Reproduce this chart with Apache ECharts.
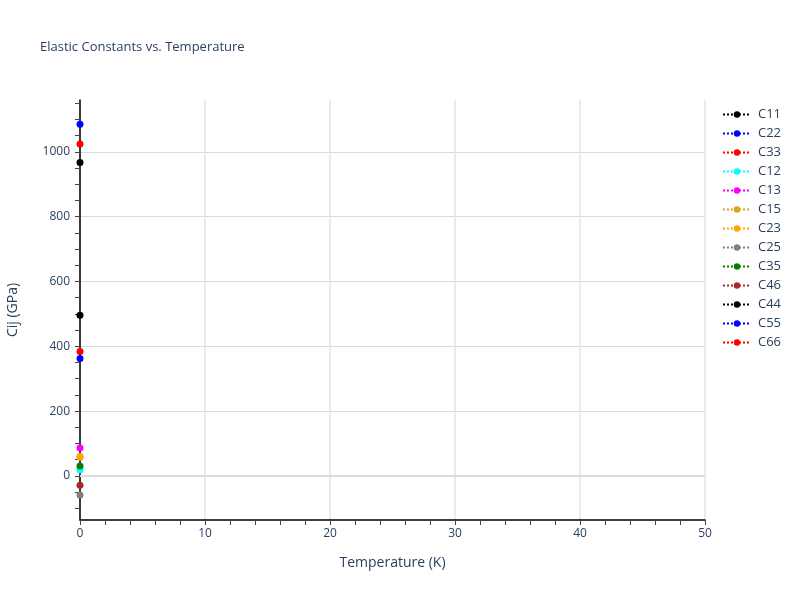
<!DOCTYPE html>
<html>
<head>
<meta charset="utf-8">
<script src="https://cdn.jsdelivr.net/npm/echarts@6/dist/echarts.min.js"></script>
<style>html,body{margin:0;padding:0;background:#fff}#c{width:800px;height:600px}</style>
</head>
<body>
<div id="c"></div>
<script>
const names = ['C11','C22','C33','C12','C13','C15','C23','C25','C35','C46','C44','C55','C66'];
const colors = ['#000000','#0000ff','#ff0000','#00ffff','#ff00ff','#daa520','#ffa500','#808080','#008000','#a52a2a','#000000','#0000ff','#ff0000'];
const temperature = [0];
const values = {
  C11: [967], C22: [1085], C33: [1024], C12: [19], C13: [86], C15: [58],
  C23: [60], C25: [-59], C35: [31], C46: [-29], C44: [496], C55: [362], C66: [384]
};
const yLabelTicks = [0, 200, 400, 600, 800, 1000];
const yMinorTicks = [-100,-50,0,50,100,150,200,250,300,350,400,450,500,550,600,650,700,750,800,850,900,950,1000,1050,1100,1150];
const yRange = [-136, 1160];
const xRange = [0, 50];

const fontColor = '#2a3f5f';
const series = names.map((n, i) => ({
  name: n,
  type: 'line',
  yAxisIndex: 0,
  data: temperature.map((t, k) => [t, values[n][k]]),
  symbol: 'circle',
  symbolSize: 7,
  showSymbol: true,
  itemStyle: { color: colors[i] },
  lineStyle: { color: colors[i], type: 'dotted', width: 2 },
  emphasis: { disabled: true },
  z: 3
}));
series.push({
  type: 'line', yAxisIndex: 0, data: [], silent: true, symbol: 'none',
  markLine: { silent: true, symbol: 'none', label: { show: false },
    lineStyle: { color: '#dcdcdc', width: 2, type: 'solid' },
    data: [{ yAxis: 0 }] }, z: 1
});

const chart = echarts.init(document.getElementById('c'));
chart.setOption({
  animation: false,
  backgroundColor: '#ffffff',
  title: {
    text: 'Elastic Constants vs. Temperature',
    left: 40, top: 41, padding: 0,
    textStyle: { fontFamily: 'Open Sans', fontSize: 13, fontWeight: 'normal', color: fontColor }
  },
  legend: {
    orient: 'vertical', left: 722, top: 108, padding: 0,
    itemWidth: 28, itemHeight: 8, itemGap: 6,
    data: names,
    textStyle: { fontFamily: 'Open Sans', fontSize: 13, color: fontColor, padding: [0,0,0,2] }
  },
  grid: { left: 80, right: 95, top: 100, bottom: 80, containLabel: false, outerBoundsMode: 'none' },
  xAxis: {
    type: 'value', min: xRange[0], max: xRange[1], interval: 10,
    name: 'Temperature (K)', nameLocation: 'middle', nameGap: 36,
    nameTextStyle: { fontFamily: 'Open Sans', fontSize: 14, color: fontColor },
    axisLine: { show: true, onZero: false, lineStyle: { color: '#000', width: 1.5 } },
    axisTick: { show: true, inside: false, length: 5, lineStyle: { color: '#444' } },
    minorTick: { show: true, splitNumber: 5, length: 5, lineStyle: { color: '#444' } },
    axisLabel: { fontFamily: 'Open Sans', fontSize: 12, color: fontColor, margin: 8 },
    splitLine: { show: true, lineStyle: { color: '#e5e5e5', width: 1.5 } }
  },
  yAxis: [
    {
      type: 'value', min: yRange[0], max: yRange[1], splitNumber: 6,
      axisLine: { show: false },
      axisTick: { show: false },
      axisLabel: { show: false },
      splitLine: { show: true, showMinLine: false, showMaxLine: false, lineStyle: { color: '#dadada', width: 1 } }
    },
    {
      type: 'value', min: yRange[0], max: yRange[1], position: 'left', offset: 0,
      name: 'Cij (GPa)', nameLocation: 'middle', nameGap: 60,
      nameTextStyle: { fontFamily: 'Open Sans', fontSize: 14, color: fontColor },
      axisLine: { show: true, onZero: false, lineStyle: { color: '#000', width: 1.5 } },
      axisTick: { show: true, customValues: yMinorTicks, length: 5, lineStyle: { color: '#444' } },
      axisLabel: { customValues: yLabelTicks, formatter: v => String(v), fontFamily: 'Open Sans', fontSize: 12, color: fontColor, margin: 10 },
      splitLine: { show: false }
    }
  ],
  series: series
});
</script>
</body>
</html>
